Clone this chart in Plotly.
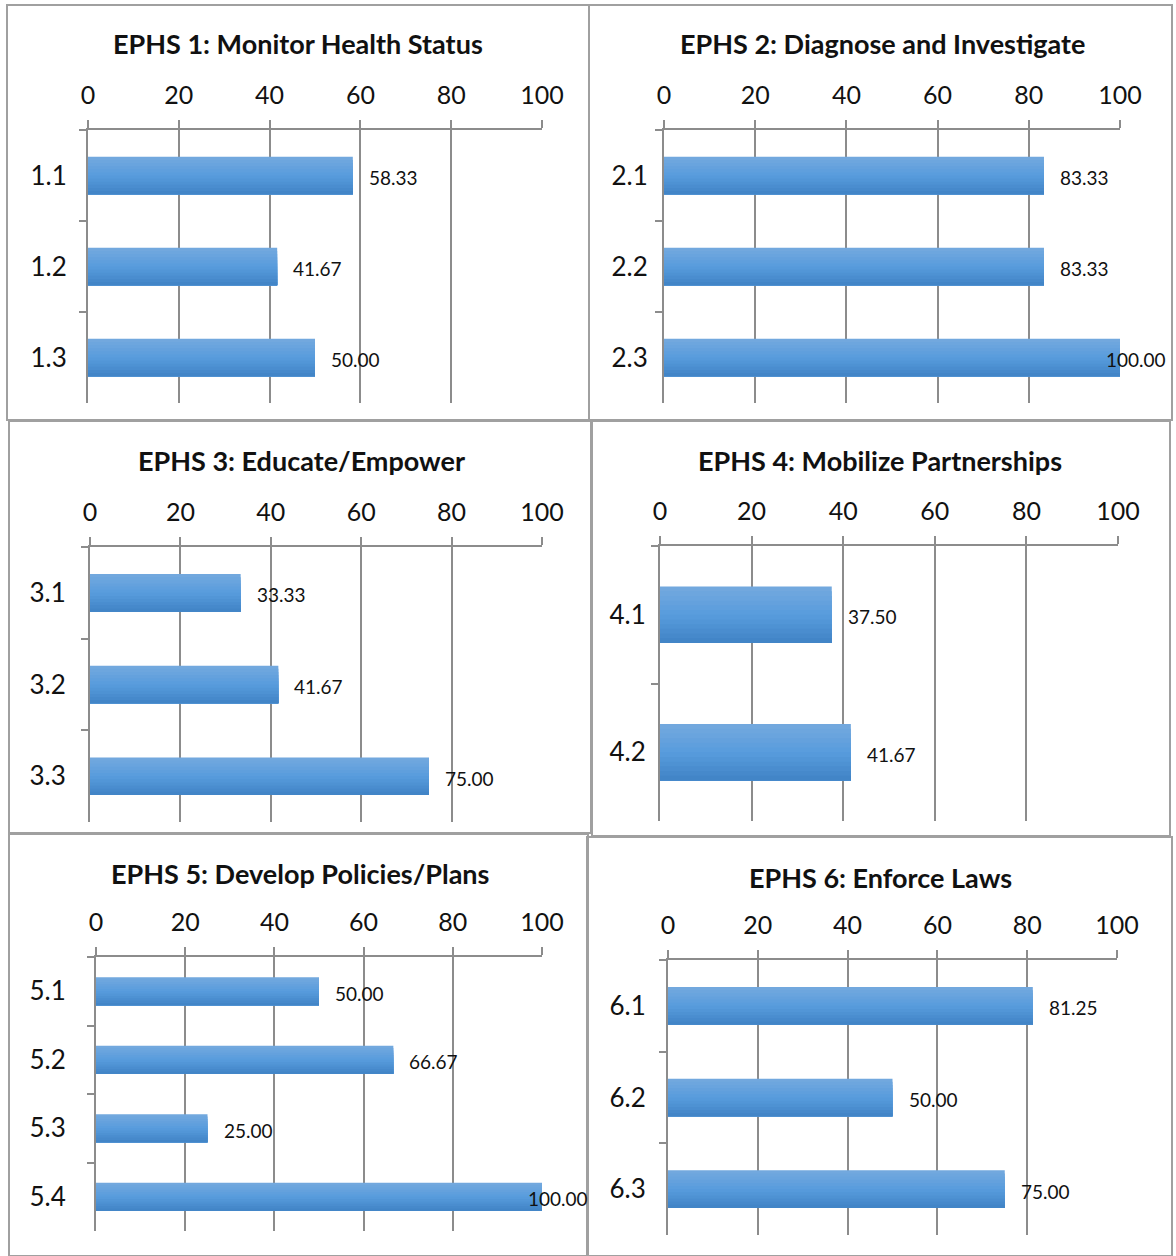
import plotly.graph_objects as go

# ---- data -------------------------------------------------------------
titles = [
    "EPHS 1: Monitor Health Status",
    "EPHS 2: Diagnose and Investigate",
    "EPHS 3: Educate/Empower",
    "EPHS 4: Mobilize Partnerships",
    "EPHS 5: Develop Policies/Plans",
    "EPHS 6: Enforce Laws",
]
cats_1 = ["1.1", "1.2", "1.3"]
vals_1 = [58.33, 41.67, 50.00]
cats_2 = ["2.1", "2.2", "2.3"]
vals_2 = [83.33, 83.33, 100.00]
cats_3 = ["3.1", "3.2", "3.3"]
vals_3 = [33.33, 41.67, 75.00]
cats_4 = ["4.1", "4.2"]
vals_4 = [37.50, 41.67]
cats_5 = ["5.1", "5.2", "5.3", "5.4"]
vals_5 = [50.00, 66.67, 25.00, 100.00]
cats_6 = ["6.1", "6.2", "6.3"]
vals_6 = [81.25, 50.00, 75.00]
x_ticks = [0, 20, 40, 60, 80, 100]

categories = [cats_1, cats_2, cats_3, cats_4, cats_5, cats_6]
values = [vals_1, vals_2, vals_3, vals_4, vals_5, vals_6]

# ---- page geometry (pixels) ---------------------------------------------
W, H = 1176, 1256
# plot area: left, right, top, bottom
plot_boxes = [
    (88, 542, 130, 403),
    (664, 1120, 130, 403),
    (90, 542, 547, 822),
    (660, 1118, 546, 821),
    (96, 542, 957, 1231),
    (668, 1117, 960, 1235),
]
# outer frame of each panel
frames = [
    (7, 5, 589, 420),
    (589, 5, 1172, 420),
    (9, 421, 591, 833),
    (592, 421, 1170, 836),
    (9, 834, 588, 1256),
    (587, 837, 1172, 1256),
]
title_pos = [(298, 44), (882, 44), (301, 461), (880, 461), (300, 873), (880, 877)]
label_right = [65, 646, 64, 644, 64, 644]   # right edge of category labels

GRAY = "#8c8c8c"
FRAME = "#a0a0a0"
TEXT = "#111111"
FONT = "Lato"
BAR_W = 0.41


def px_x(p):
    return p / W


def px_y(p):
    return 1 - p / H


def lerp(c1, c2, t):
    return tuple(round(a + (b - a) * t) for a, b in zip(c1, c2))


# vertical gradient of the bars (top -> middle -> bottom)
TOP, MID, BOT = (114, 168, 222), (88, 156, 221), (66, 133, 199)
N_STRIPES = 12
stripe_colors = []
for k in range(N_STRIPES):
    t = k / (N_STRIPES - 1)
    c = lerp(TOP, MID, t / 0.5) if t <= 0.5 else lerp(MID, BOT, (t - 0.5) / 0.5)
    stripe_colors.append("rgb(%d,%d,%d)" % c)

fig = go.Figure()
annotations = []
shapes = []
layout = dict(
    width=W, height=H, autosize=False,
    margin=dict(l=0, r=0, t=0, b=0, pad=0, autoexpand=False),
    paper_bgcolor="white", plot_bgcolor="white",
    showlegend=False,
    font=dict(family=FONT, color=TEXT),
)

for i in range(6):
    n = i + 1
    xa = "x" if n == 1 else "x%d" % n
    ya = "y" if n == 1 else "y%d" % n
    cats, vals = categories[i], values[i]
    left, right, top, bottom = plot_boxes[i]

    # gradient bars: each stripe runs from its own start down to the bar's
    # lower edge, so the next (darker) one simply paints over it
    sw = BAR_W / N_STRIPES
    for k, col in enumerate(stripe_colors):
        fig.add_trace(go.Bar(
            x=vals, y=cats, orientation="h",
            xaxis=xa, yaxis=ya,
            width=BAR_W - k * sw,
            offset=-BAR_W / 2 + k * sw,
            marker=dict(color=col, line=dict(width=0)),
            hoverinfo="skip",
        ))

    # value labels (y given as category index)
    for j, v in enumerate(vals):
        annotations.append(dict(
            x=v, y=j, xref=xa, yref=ya,
            text="%.2f" % v, showarrow=False,
            xanchor="left", yanchor="middle",
            xshift=14 if v < 100 else -16, yshift=-2,
            font=dict(family=FONT, size=19, color=TEXT),
        ))

    # panel title
    tx, ty = title_pos[i]
    annotations.append(dict(
        x=px_x(tx), y=px_y(ty), xref="paper", yref="paper",
        text="<b>%s</b>" % titles[i], showarrow=False,
        xanchor="center", yanchor="middle",
        font=dict(family=FONT, size=27, color=TEXT),
    ))

    # panel frame
    fx0, fy0, fx1, fy1 = frames[i]
    shapes.append(dict(
        type="rect", xref="paper", yref="paper",
        x0=px_x(fx0), x1=px_x(fx1), y0=px_y(fy1), y1=px_y(fy0),
        line=dict(color=FRAME, width=2), fillcolor="rgba(0,0,0,0)",
        layer="above",
    ))

    layout["xaxis" if n == 1 else "xaxis%d" % n] = dict(
        domain=[px_x(left), px_x(right)],
        anchor=ya, side="top", automargin=False,
        range=[0, 100], tickvals=x_ticks,
        showgrid=True, gridcolor=GRAY, gridwidth=2,
        showline=True, linecolor=GRAY, linewidth=2,
        ticks="outside", ticklen=8, tickcolor=GRAY, tickwidth=2,
        ticklabelstandoff=6,
        zeroline=False, fixedrange=True,
        tickfont=dict(family=FONT, size=25, color=TEXT),
    )
    layout["yaxis" if n == 1 else "yaxis%d" % n] = dict(
        domain=[px_y(bottom), px_y(top)],
        anchor=xa, type="category", automargin=False,
        categoryorder="array", categoryarray=cats,
        range=[len(cats) - 0.5, -0.5],
        showgrid=False,
        showline=True, linecolor=GRAY, linewidth=2,
        ticks="outside", tickson="boundaries", ticklen=7,
        tickcolor=GRAY, tickwidth=2,
        ticklabelstandoff=max(0, left - label_right[i] - 9),
        zeroline=False, fixedrange=True,
        tickfont=dict(family=FONT, size=26, color=TEXT),
    )

layout["annotations"] = annotations
layout["shapes"] = shapes
layout["barmode"] = "overlay"
fig.update_layout(**layout)

fig.write_html("out.html")
